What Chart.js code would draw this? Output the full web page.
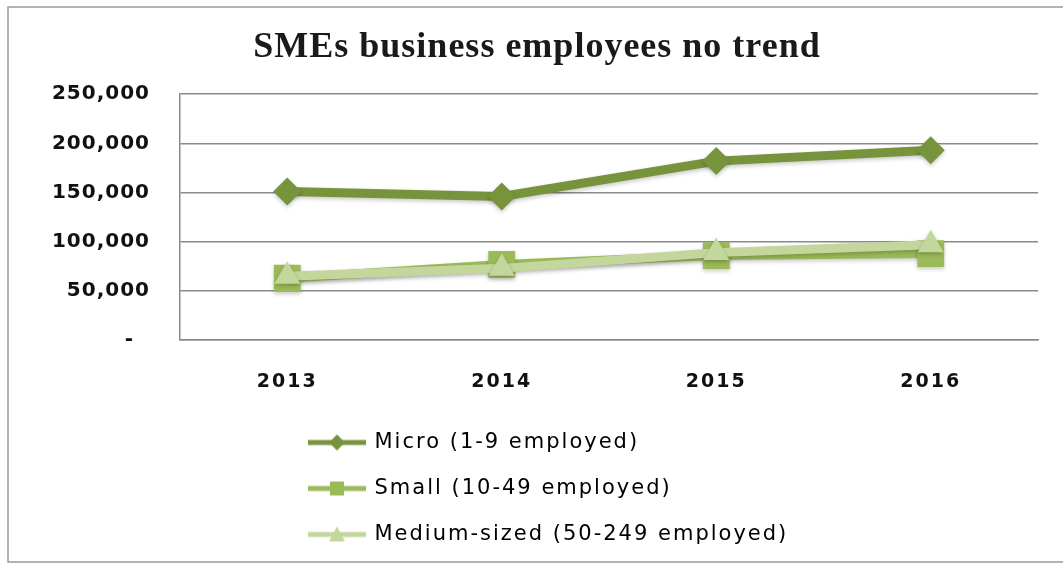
<!DOCTYPE html>
<html>
<head>
<meta charset="utf-8">
<script src="https://cdn.jsdelivr.net/npm/chart.js@4.4.1/dist/chart.umd.min.js"></script>
<style>
  html, body { margin: 0; padding: 0; background: #fff; }
</style>
</head>
<body>
<canvas id="chart" width="1063" height="563"></canvas>
<script>
// chart values
const years = ['2013', '2014', '2015', '2016'];
const micro = [151000, 146000, 182000, 193000];
const small = [63000, 77000, 86000, 88000];
const medium = [65000, 73000, 89000, 97000];
const seriesNames = ['Micro (1-9 employed)', 'Small (10-49 employed)', 'Medium-sized (50-249 employed)'];
const yTicks = [0, 50000, 100000, 150000, 200000, 250000];

const colours = ['#77933C', '#9BBB59', '#C3D69B'];
const markers = ['rectRot', 'rect', 'triangle'];

// little line + marker icons for the legend
function legendIcon(colour, marker) {
  const c = document.createElement('canvas');
  c.width = 58;
  c.height = 22;
  const g = c.getContext('2d');
  g.strokeStyle = colour;
  g.lineWidth = 5;
  g.beginPath();
  g.moveTo(0, 11);
  g.lineTo(58, 11);
  g.stroke();
  g.fillStyle = colour;
  g.beginPath();
  if (marker === 'rectRot') {
    g.moveTo(29, 3); g.lineTo(37, 11); g.lineTo(29, 19); g.lineTo(21, 11);
  } else if (marker === 'rect') {
    g.rect(22, 4, 14, 14);
  } else {
    g.moveTo(29, 3); g.lineTo(37, 18); g.lineTo(21, 18);
  }
  g.closePath();
  g.fill();
  return c;
}

// draw an element's text with extra tracking
function withSpacing(el, px, method = 'draw') {
  if (!el || el['_spaced_' + method]) return;
  const fn = el[method];
  el[method] = function (...args) {
    const ctx = this.ctx;
    const prev = ctx.letterSpacing;
    ctx.letterSpacing = px;
    fn.apply(this, args);
    ctx.letterSpacing = prev;
  };
  el['_spaced_' + method] = true;
}

// outer frame
const frame = {
  id: 'frame',
  beforeDraw(chart) {
    const ctx = chart.ctx;
    ctx.save();
    ctx.strokeStyle = '#9a9a9a';
    ctx.lineWidth = 1.5;
    ctx.strokeRect(8, 7, 1100, 555);
    ctx.restore();
  }
};

// stacked legend block under the axis, title placement, text tracking
const tweaks = {
  id: 'tweaks',
  afterLayout(chart) {
    const lg = chart.legend;
    lg.left = 285;
    lg.right = 820;
    lg.width = lg.right - lg.left;
    lg.top = 407;
    lg.bottom = 563;
    lg.height = lg.bottom - lg.top;

    const tb = chart.titleBlock;
    tb.left = 36;
    tb.right = 1038;
    tb.width = tb.right - tb.left;

    withSpacing(lg, '2px');
    withSpacing(tb, '1px');
    withSpacing(chart.scales.x, '2px', 'drawLabels');
    withSpacing(chart.scales.y, '1px', 'drawLabels');
  }
};

// soft shadow under the series
const shade = {
  id: 'shade',
  beforeDatasetsDraw(chart) {
    const ctx = chart.ctx;
    ctx.save();
    ctx.shadowColor = 'rgba(0,0,0,0.22)';
    ctx.shadowBlur = 4;
    ctx.shadowOffsetY = 2;
  },
  afterDatasetsDraw(chart) { chart.ctx.restore(); }
};

const sets = [micro, small, medium].map((vals, i) => ({
  label: seriesNames[i],
  data: vals,
  borderColor: colours[i],
  backgroundColor: colours[i],
  borderWidth: 9,
  pointStyle: markers[i],
  pointRadius: [14, 19, 15][i],
  pointBorderWidth: 0,
  pointBackgroundColor: colours[i],
  tension: 0,
  order: 3 - i
}));

new Chart(document.getElementById('chart'), {
  type: 'line',
  data: { labels: years, datasets: sets },
  plugins: [frame, tweaks, shade],
  options: {
    responsive: false,
    animation: false,
    layout: { padding: { left: 20, right: 25, top: 8, bottom: 38 } },
    plugins: {
      tooltip: { enabled: false },
      title: {
        display: true,
        text: 'SMEs business employees no trend',
        color: '#1a1a1a',
        font: { family: 'Liberation Serif', weight: 'bold', size: 36 },
        padding: { top: 18, bottom: 25 }
      },
      legend: {
        position: 'bottom',
        align: 'start',
        labels: {
          usePointStyle: true,
          pointStyleWidth: 54,
          padding: 25,
          color: '#111',
          font: { family: 'DejaVu Sans', size: 21 },
          generateLabels(chart) {
            return chart.data.datasets.map((ds, i) => ({
              text: ds.label,
              fillStyle: colours[i],
              strokeStyle: colours[i],
              lineWidth: 0,
              pointStyle: legendIcon(colours[i], markers[i]),
              datasetIndex: i,
              hidden: false
            }));
          }
        }
      }
    },
    scales: {
      x: {
        offset: true,
        grid: { display: false, drawTicks: false },
        border: { display: true, color: '#8a8a8a', width: 1.5 },
        ticks: {
          padding: 30,
          color: '#111',
          font: { family: 'DejaVu Sans', weight: 'bold', size: 19 }
        }
      },
      y: {
        min: 0,
        max: 250000,
        afterBuildTicks(scale) { scale.ticks = yTicks.map(v => ({ value: v })); },
        afterFit(scale) { scale.width = 160; },
        grid: { color: '#8a8a8a', lineWidth: 1.5, drawTicks: false },
        border: { display: true, color: '#8a8a8a', width: 1.5 },
        ticks: {
          padding: 30,
          color: '#111',
          font: { family: 'DejaVu Sans', weight: 'bold', size: 20 },
          callback: v => v === 0 ? '-  ' : v.toLocaleString('en-US')
        }
      }
    }
  }
});
</script>
</body>
</html>
